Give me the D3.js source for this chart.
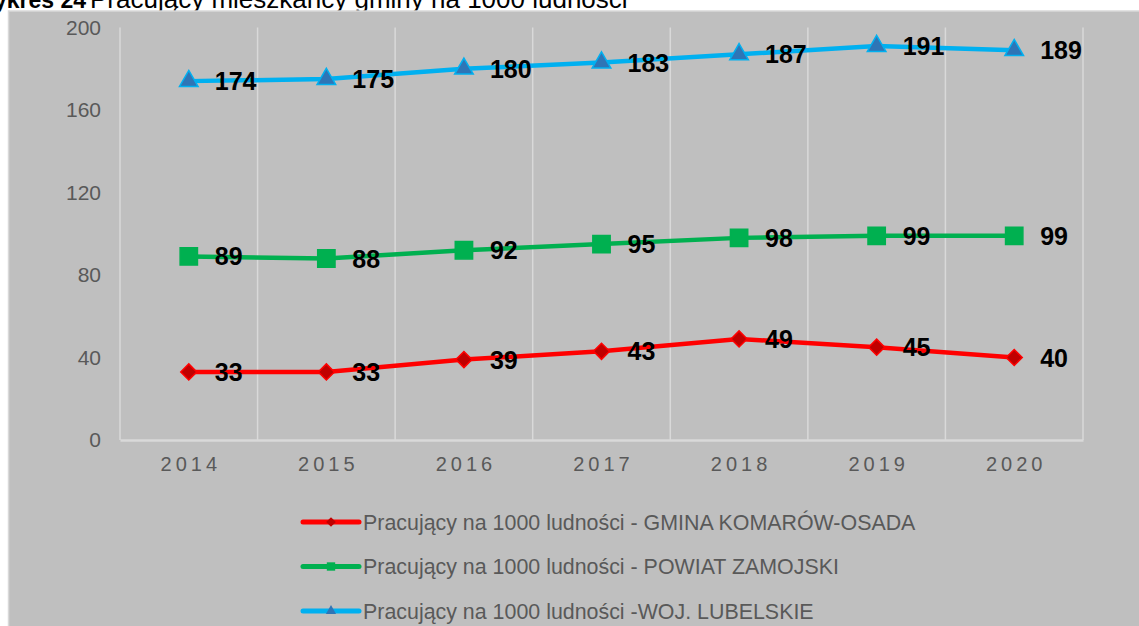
<!DOCTYPE html>
<html>
  <head>
    <meta charset="utf-8">
    <title>Pracujący na 1000 ludności</title>
    <script src="https://d3js.org/d3.v7.min.js"></script>
    <style>
      html, body { margin: 0; padding: 0; background: #ffffff; }
      svg { display: block; font-family: "Liberation Sans", Arial, sans-serif; }
    </style>
  </head>
  <body>
    <svg id="chart" width="1139" height="626"></svg>
    <script>
      // chart data
      var years = ["2014", "2015", "2016", "2017", "2018", "2019", "2020"];
      var gmina = [33, 33, 39, 43, 49, 45, 40];
      var powiat = [89, 88, 92, 95, 98, 99, 99];
      var wojewodztwo = [174, 175, 180, 183, 187, 191, 189];
      var yTicks = [0, 40, 80, 120, 160, 200];
      var seriesNames = [
        "Pracujący na 1000 ludności - GMINA KOMARÓW-OSADA",
        "Pracujący na 1000 ludności - POWIAT ZAMOJSKI",
        "Pracujący na 1000 ludności -WOJ. LUBELSKIE"
      ];

      var series = [
        { name: seriesNames[0], values: gmina, color: "#ff0000", fill: "#c00000", marker: d3.symbolDiamond2, size: 165, legendSize: 60 },
        { name: seriesNames[1], values: powiat, color: "#00b050", fill: "#00b050", marker: d3.symbolSquare, size: 300, legendSize: 70 },
        { name: seriesNames[2], values: wojewodztwo, color: "#00b0f0", fill: "#2e75b6", marker: d3.symbolTriangle, size: 150, legendSize: 45 }
      ];

      // page elements
      var svg = d3.select("#chart");
      var margin = { top: 27.5, right: 56, bottom: 186, left: 120 };
      var width = 1139, height = 626;

      // title, partly cut off at the top of the page (as in the source)
      svg.append("text")
        .attr("x", 86).attr("y", 8)
        .attr("text-anchor", "end")
        .style("font-size", "23px").style("font-weight", "bold")
        .attr("fill", "#000")
        .text("Wykres 24");
      svg.append("text")
        .attr("x", 90).attr("y", 8)
        .style("font-size", "26px")
        .attr("fill", "#000")
        .text("Pracujący mieszkańcy gminy na 1000 ludności");

      // chart area background
      svg.append("rect")
        .attr("x", 8.5).attr("y", 11)
        .attr("width", width).attr("height", height)
        .attr("fill", "#bfbfbf")
        .attr("stroke", "#d9d9d9").attr("stroke-width", 1.5);

      // scales
      var x = d3.scaleBand()
        .domain(years)
        .range([margin.left, width - margin.right]);
      var y = d3.scaleLinear()
        .domain([0, 200])
        .range([height - margin.bottom, margin.top]);

      // vertical gridlines between categories
      var grid = svg.append("g");
      var bounds = years.map(function(d) { return x(d); }).concat([x.range()[1]]);
      grid.selectAll("line")
        .data(bounds)
        .join("line")
          .attr("x1", function(d) { return d; }).attr("x2", function(d) { return d; })
          .attr("y1", y(200)).attr("y2", y(0))
          .attr("stroke", "#d9d9d9").attr("stroke-width", 1.5);

      // y axis labels
      var yAxis = d3.axisLeft(y).tickValues(yTicks).tickSize(0).tickPadding(19);
      var yAxisGroup = svg.append("g")
        .attr("transform", "translate(" + margin.left + ",0)")
        .call(yAxis);
      yAxisGroup.select(".domain").remove();
      yAxisGroup.selectAll("text")
        .style("font-size", "21px")
        .style("font-family", "Liberation Sans, Arial, sans-serif")
        .attr("fill", "#595959");

      // x axis
      var xAxis = d3.axisBottom(x).tickSize(0).tickPadding(17);
      var xAxisGroup = svg.append("g")
        .attr("transform", "translate(0," + y(0) + ")")
        .call(xAxis);
      xAxisGroup.select(".domain")
        .attr("stroke", "#d9d9d9").attr("stroke-width", 2.5);
      xAxisGroup.selectAll("text")
        .style("font-size", "20px")
        .style("font-family", "Liberation Sans, Arial, sans-serif")
        .style("letter-spacing", "4px")
        .attr("dx", "2px")
        .attr("fill", "#595959");

      var cx = function(i) { return x(years[i]) + x.bandwidth() / 2; };
      var line = d3.line()
        .x(function(d, i) { return cx(i); })
        .y(function(d) { return y(d); });

      // plots
      series.forEach(function(s) {
        var g = svg.append("g");
        g.append("path")
          .attr("d", line(s.values))
          .attr("fill", "none")
          .attr("stroke", s.color)
          .attr("stroke-width", 4.5)
          .attr("stroke-linejoin", "round");
        g.selectAll("path.marker")
          .data(s.values)
          .join("path")
            .classed("marker", true)
            .attr("transform", function(d, i) { return "translate(" + cx(i) + "," + y(d) + ")"; })
            .attr("d", d3.symbol().type(s.marker).size(s.size))
            .attr("fill", s.fill)
            .attr("stroke", s.color)
            .attr("stroke-width", 1.5);
        g.selectAll("text")
          .data(s.values)
          .join("text")
            .attr("x", function(d, i) { return cx(i) + 26; })
            .attr("y", function(d) { return y(d); })
            .attr("dy", "0.36em")
            .style("font-size", "25px").style("font-weight", "bold")
            .attr("fill", "#000")
            .text(function(d) { return d; });
      });

      // legend
      var legend = svg.append("g");
      var legendY = d3.scalePoint().domain(seriesNames).range([522, 611]);
      series.forEach(function(s) {
        var ly = legendY(s.name);
        legend.append("line")
          .attr("x1", 303).attr("x2", 359)
          .attr("y1", ly).attr("y2", ly)
          .attr("stroke", s.color).attr("stroke-width", 5)
          .attr("stroke-linecap", "round");
        legend.append("path")
          .attr("transform", "translate(331," + ly + ")")
          .attr("d", d3.symbol().type(s.marker).size(s.legendSize))
          .attr("fill", s.fill);
        legend.append("text")
          .attr("x", 363).attr("y", ly)
          .attr("dy", "0.36em")
          .style("font-size", "21.4px")
          .attr("fill", "#595959")
          .text(s.name);
      });
    </script>
  </body>
</html>
